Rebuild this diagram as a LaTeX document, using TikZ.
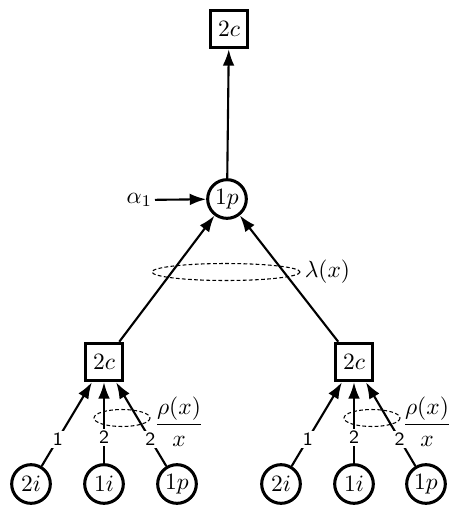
\documentclass[tikz,border=0pt]{standalone}
\usepackage{amsmath,amssymb}
\usetikzlibrary{arrows.meta}

\tikzset{
  chk/.style={draw,line width=1.3pt,minimum size=16pt,inner sep=0pt},
  var/.style={draw,circle,line width=1.3pt,minimum size=16.5pt,inner sep=0pt},
  edge/.style={line width=0.9pt,-{Latex[length=7pt,width=5pt]}},
  deg/.style={fill=white,inner sep=1pt,font=\fontsize{8}{9}\sffamily},
  grp/.style={dash pattern=on 1.6pt off 1pt,line width=0.45pt}
}

\begin{document}
\begin{tikzpicture}[x=0.015cm,y=-0.015cm,font=\fontsize{10}{12}\selectfont]
  \useasboundingbox (0,0) rectangle (457,517);
  % top of the tree
  \node[chk] (top) at (229,29) {$2c$};
  \node[var] (root) at (227,199) {$1p$};
  \node[anchor=east,inner sep=1pt] (alpha) at (155,200) {$\alpha_1$};
  \draw[edge] (root) -- (top);
  \draw[edge] (alpha) -- (root);
  \draw[grp] (226,272) ellipse (74 and 8.5);
  \node[anchor=west,inner sep=1pt] (lam) at (302,272) {$\lambda(x)$};
  % two check nodes
  \node[chk] (cl) at (104,362) {$2c$};
  \node[chk] (cr) at (354,362) {$2c$};
  \draw[edge] (cl) -- (root);
  \draw[edge] (cr) -- (root);
  % left leaves
  \node[var] (l1) at (31,484) {$2i$};
  \node[var] (l2) at (104,484) {$1i$};
  \node[var] (l3) at (177,484) {$1p$};
  \draw[edge] (l1) -- node[deg,pos=0.32] {1} (cl);
  \draw[edge] (l2) -- node[deg,pos=0.32] {2} (cl);
  \draw[edge] (l3) -- node[deg,pos=0.32] {2} (cl);
  \draw[grp] (122,418) ellipse (28 and 8.5);
  \node (rhol) at (179,422) {$\dfrac{\rho(x)}{x}$};
  % right leaves
  \node[var] (r1) at (281,484) {$2i$};
  \node[var] (r2) at (354,484) {$1i$};
  \node[var] (r3) at (426,484) {$1p$};
  \draw[edge] (r1) -- node[deg,pos=0.32] {1} (cr);
  \draw[edge] (r2) -- node[deg,pos=0.32] {2} (cr);
  \draw[edge] (r3) -- node[deg,pos=0.32] {2} (cr);
  \draw[grp] (372,418) ellipse (28 and 8.5);
  \node (rhor) at (427,422) {$\dfrac{\rho(x)}{x}$};
\end{tikzpicture}
\end{document}
